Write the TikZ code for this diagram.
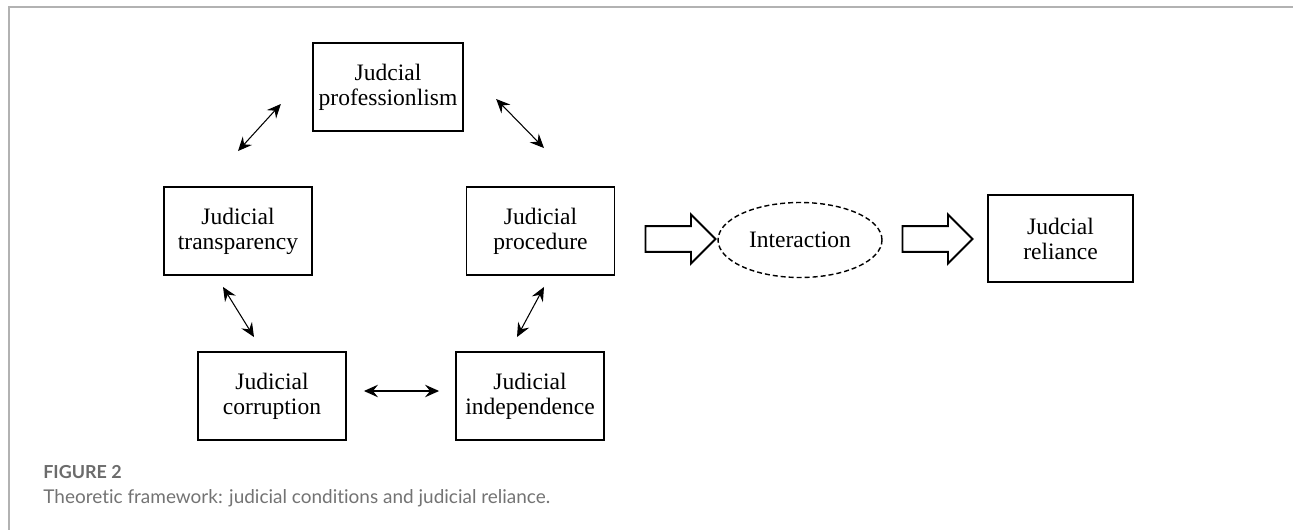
\documentclass[tikz,border=0pt]{standalone}
\usepackage{fontspec}
\setmainfont{Liberation Serif}
\newfontfamily\capfont[Ligatures=NoCommon]{Lato}
\usetikzlibrary{arrows.meta,shapes.geometric,shapes.arrows,calc}

\begin{document}
\begin{tikzpicture}[x=0.02cm, y=-0.02cm,
      box/.style={draw, line width=1.1pt, minimum width=2.96cm, minimum height=1.76cm,
                  align=center, font=\fontsize{13.4}{14.2}\selectfont},
      link/.style={{Stealth[length=2.8mm,width=2.5mm,inset=1mm]}-{Stealth[length=2.8mm,width=2.5mm,inset=1mm]},
                   line width=0.6pt},
      fatarrow/.style={draw, single arrow, line width=1.1pt, minimum height=1.4cm,
                       inner xsep=0pt, inner ysep=0.24cm,
                       single arrow head extend=0.23cm, single arrow tip angle=90}]
      \useasboundingbox (0, 0) rectangle (1293, 530);
      \draw [line width=1.1pt, black!30] (9, 530) -- (9, 7) -- (1293, 7);
      \node [box] (prof) at (388, 87) {Judcial\\professionlism};
      \node [box] (transp) at (238, 231) {Judicial\\transparency};
      \node [box] (proc) at (540.5, 231) {Judicial\\procedure};
      \node [box] (corrupt) at (272, 396) {Judicial\\corruption};
      \node [box] (indep) at (530, 396) {Judicial\\independence};
      \node [fatarrow] (into) at (674, 239) {};
      \node [draw, dashed, dash pattern=on 1mm off 0.6mm, line width=0.8pt, ellipse, inner sep=0pt,
             minimum width=3.28cm, minimum height=1.5cm,
             font=\fontsize{13.4}{14.2}\selectfont] (inter) at (800, 240) {Interaction};
      \node [fatarrow] (out) at (931, 239) {};
      \node [box, minimum width=2.9cm, minimum height=1.74cm] (rely) at (1060.5, 238.5) {Judcial\\reliance};
      \draw [link] ($(prof.west)+(-31, 17)$) -- ($(transp.north)+(0, -35)$);
      \draw [link] ($(prof.east)+(32, 12)$) -- ($(proc.north)+(3.5, -38)$);
      \draw [link] ($(transp.south)+(-15, 11)$) -- ($(corrupt.north)+(-18, -14)$);
      \draw [link] ($(proc.south)+(3.5, 11)$) -- ($(indep.north)+(-13, -14)$);
      \draw [link] ($(corrupt.east)+(17, -5)$) -- ($(indep.west)+(-16, -5)$);
      \node [anchor=base west, inner sep=0pt, text=black!58,
             font=\capfont\bfseries\fontsize{10.2}{12}\selectfont] (fig) at (43, 478) {FIGURE 2};
      \node [anchor=base west, inner sep=0pt, text=black!55,
             font=\capfont\fontsize{10.8}{12}\selectfont] (caption) at (43, 503)
            {Theoretic framework: judicial conditions and judicial reliance.};
\end{tikzpicture}
\end{document}
